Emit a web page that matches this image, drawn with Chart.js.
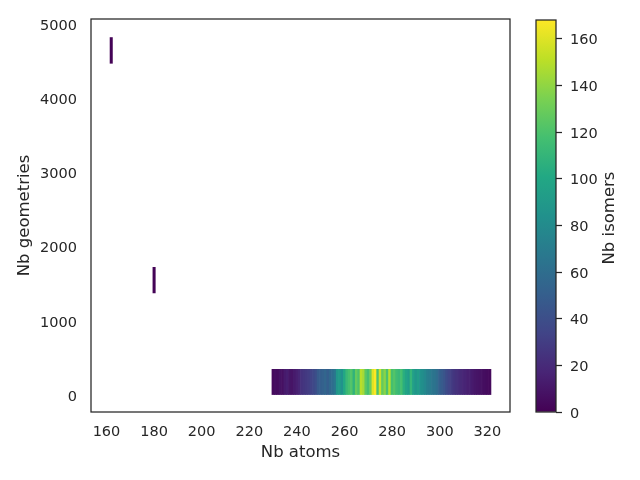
<!DOCTYPE html>
<html><head><meta charset="utf-8">
<script src="https://cdn.jsdelivr.net/npm/chart.js@4/dist/chart.umd.min.js"></script>
<style>
html,body{margin:0;padding:0;background:#fff;}
#wrap{position:relative;width:640px;height:480px;overflow:hidden;background:#fff;}
#main{position:absolute;left:0;top:0;}
#cb{position:absolute;left:520px;top:0;}
</style></head><body>
<div id="wrap">
<canvas id="main" width="530" height="480"></canvas>
<canvas id="cb" width="120" height="480"></canvas>
</div>
<script>
// ---- data ----
const outlierAtoms = [162, 180];
const outlierGeomLow = [4465, 1370];
const outlierGeomHigh = [4812, 1715];
const outlierIsomers = [1, 1];

const bandAtoms = [230,231,232,233,234,235,236,237,238,239,
  240,241,242,243,244,245,246,247,248,249,
  250,251,252,253,254,255,256,257,258,259,
  260,261,262,263,264,265,266,267,268,269,
  270,271,272,273,274,275,276,277,278,279,
  280,281,282,283,284,285,286,287,288,289,
  290,291,292,293,294,295,296,297,298,299,
  300,301,302,303,304,305,306,307,308,309,
  310,311,312,313,314,315,316,317,318,319,
  320,321];
const bandIsomers = [4,6,5,8,7,12,14,10,9,12,
  15,18,24,26,28,30,33,36,40,48,
  50,52,55,50,56,60,65,88,92,85,
  100,112,118,122,108,128,120,150,145,125,
  118,130,160,168,120,155,128,138,120,150,
  118,122,115,112,118,105,98,92,110,95,
  88,92,85,82,78,72,70,66,64,60,
  52,48,44,38,34,30,26,24,22,20,
  18,17,15,14,12,10,9,8,7,6,
  5,4];
const bandGeomLow = 0;
const bandGeomHigh = 340;

const xTickLabels = [160, 180, 200, 220, 240, 260, 280, 300, 320];
const yTickLabels = [0, 1000, 2000, 3000, 4000, 5000];
const cbTickLabels = [0, 20, 40, 60, 80, 100, 120, 140, 160];
const isomerMin = 0;
const isomerMax = 168;

// ---- style ----
const TXT = '#262626';
Chart.defaults.font.family = "'DejaVu Sans', sans-serif";
Chart.defaults.color = TXT;

const viridisStops = ['#440154','#482475','#414487','#355f8d','#2a788e','#21918c','#22a884','#44bf70','#7ad151','#bddf26','#fde725'];
function hexToRgb(h){return [parseInt(h.slice(1,3),16),parseInt(h.slice(3,5),16),parseInt(h.slice(5,7),16)];}
const vRgb = viridisStops.map(hexToRgb);
function viridis(v){
  let t = (v - isomerMin) / (isomerMax - isomerMin);
  t = Math.max(0, Math.min(1, t));
  const p = t * (vRgb.length - 1);
  const i = Math.min(Math.floor(p), vRgb.length - 2);
  const f = p - i;
  const c = vRgb[i].map((a, k) => Math.round(a + (vRgb[i+1][k] - a) * f));
  return 'rgb(' + c.join(',') + ')';
}

// build cells
const cells = [];
const cellColors = [];
outlierAtoms.forEach((a, i) => {
  cells.push({x: a, y: [outlierGeomLow[i], outlierGeomHigh[i]]});
  cellColors.push(viridis(outlierIsomers[i]));
});
bandAtoms.forEach((a, i) => {
  cells.push({x: a, y: [bandGeomLow, bandGeomHigh]});
  cellColors.push(viridis(bandIsomers[i]));
});

const fixedTicks = (vals) => (s) => { s.ticks = vals.map(v => ({value: v})); };

const frame = {
  id: 'frame',
  afterDraw(chart){
    const {ctx, chartArea: a} = chart;
    ctx.save();
    ctx.strokeStyle = TXT;
    ctx.lineWidth = 1.25;
    ctx.strokeRect(a.left, a.top, a.right - a.left, a.bottom - a.top);
    ctx.restore();
  }
};

new Chart(document.getElementById('main'), {
  type: 'bar',
  data: {datasets: [{
    data: cells,
    backgroundColor: cellColors,
    borderWidth: 0,
    barPercentage: 1,
    categoryPercentage: 1
  }]},
  options: {
    responsive: false,
    animation: false,
    layout: {padding: {top: 19, right: 20, left: 0, bottom: 0}},
    plugins: {legend: {display: false}, tooltip: {enabled: false}},
    scales: {
      x: {
        type: 'linear', min: 153.5, max: 329.5, offset: false,
        grid: {display: false, drawTicks: false}, border: {display: false},
        ticks: {padding: 12, color: TXT, font: {size: 14.5}, callback: v => String(v)},
        afterBuildTicks: fixedTicks(xTickLabels),
        title: {display: true, text: 'Nb atoms', color: TXT, font: {size: 16.5},
                padding: {top: 17, bottom: 17}},
        afterFit: s => { s.height = 68; s.paddingLeft = 0; s.paddingRight = 0; }
      },
      y: {
        type: 'linear', min: -235, max: 5062,
        grid: {display: false, drawTicks: false}, border: {display: false},
        ticks: {padding: 14, labelOffset: 2.5, color: TXT, font: {size: 14.5}, callback: v => String(v)},
        afterBuildTicks: fixedTicks(yTickLabels),
        title: {display: true, text: 'Nb geometries', color: TXT, font: {size: 16.5},
                padding: {top: 15, bottom: 15}},
        afterFit: s => { s.width = 91; s.paddingTop = 0; s.paddingBottom = 0; }
      }
    }
  },
  plugins: [frame]
});

// ---- colorbar ----
const cbTitle = {
  id: 'cbTitle',
  afterDraw(chart){
    const ctx = chart.ctx;
    ctx.save();
    ctx.fillStyle = TXT;
    ctx.font = "16.5px 'DejaVu Sans', sans-serif";
    ctx.textAlign = 'center';
    ctx.textBaseline = 'middle';
    ctx.translate(90, 218);
    ctx.rotate(-Math.PI / 2);
    ctx.fillText('Nb isomers', 0, 0);
    ctx.restore();
  }
};

new Chart(document.getElementById('cb'), {
  type: 'bar',
  data: {labels: [''], datasets: [{
    data: [[isomerMin, isomerMax]],
    borderWidth: 0,
    barPercentage: 1,
    categoryPercentage: 1,
    backgroundColor: (c) => {
      const a = c.chart.chartArea;
      if (!a) return '#440154';
      const g = c.chart.ctx.createLinearGradient(0, a.bottom, 0, a.top);
      viridisStops.forEach((s, i) => g.addColorStop(i / (viridisStops.length - 1), s));
      return g;
    }
  }]},
  options: {
    responsive: false,
    animation: false,
    layout: {padding: {top: 20, bottom: 68, left: 16, right: 0}},
    plugins: {legend: {display: false}, tooltip: {enabled: false}},
    scales: {
      x: {display: false},
      y: {
        position: 'right', min: isomerMin, max: isomerMax,
        grid: {display: true, drawOnChartArea: false, drawTicks: true, tickLength: 6,
               tickColor: TXT, tickWidth: 1.25},
        border: {display: false},
        ticks: {padding: 8, labelOffset: 2, color: TXT, font: {size: 14.5}, callback: v => String(v)},
        afterBuildTicks: fixedTicks(cbTickLabels),
        afterFit: s => { s.width = 84; s.paddingTop = 0; s.paddingBottom = 0; }
      }
    }
  },
  plugins: [frame, cbTitle]
});
</script>
</body></html>
